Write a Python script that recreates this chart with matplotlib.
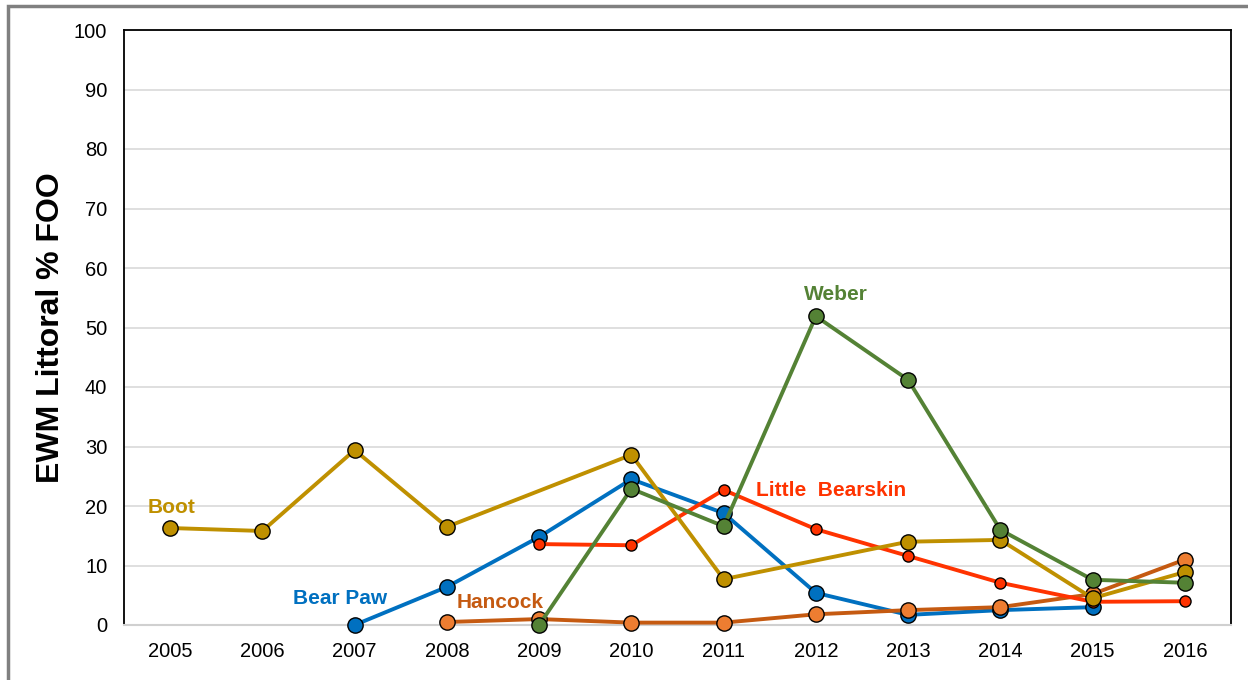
import numpy as np
import matplotlib
matplotlib.use('Agg')
import matplotlib.pyplot as plt
from matplotlib.patches import Rectangle

plt.rcParams['font.family'] = ['Liberation Sans', 'DejaVu Sans']

years = ['2005', '2006', '2007', '2008', '2009', '2010', '2011', '2012', '2013', '2014', '2015', '2016']
nan = np.nan

# valores (% FOO)
bear_paw = [nan, nan, 0.0, 6.4, 14.8, 24.5, 18.8, 5.4, 1.7, 2.5, 3.0, nan]
hancock = [nan, nan, nan, 0.5, 1.0, 0.4, 0.4, 1.8, 2.5, 3.0, 5.2, 11.0]
little_bearskin = [nan, nan, nan, nan, 13.6, 13.4, 22.7, 16.1, 11.6, 7.1, 3.9, 4.0]
boot = [16.3, 15.8, 29.4, 16.5, nan, 28.6, 7.7, nan, 14.0, 14.3, 4.5, 8.9]
weber = [nan, nan, nan, nan, 0.0, 22.9, 16.6, 51.9, 41.2, 16.0, 7.6, 7.1]

fig = plt.figure(figsize=(12.48, 6.8), dpi=100)
ax = fig.add_axes([124 / 1248, 1 - 625 / 680, (1231 - 124) / 1248, (625 - 30) / 680])

x = np.arange(len(years))


def serie(valores, color_linea, color_marca, ms=11):
    v = np.array(valores, dtype=float)
    ok = ~np.isnan(v)
    ax.plot(x[ok], v[ok], '-o', color=color_linea, lw=2.8, markersize=ms,
            markerfacecolor=color_marca, markeredgecolor='black', markeredgewidth=1.0,
            clip_on=False, zorder=3)


serie(bear_paw, '#0070C0', '#0070C0')
serie(hancock, '#C55A11', '#ED7D31')
serie(little_bearskin, '#FF3300', '#FF3300', ms=8)
serie(boot, '#BF9000', '#BF9000')
serie(weber, '#548235', '#548235')

ax.set_xlim(-0.5, len(years) - 0.5)
ax.set_ylim(0, 100)
ax.set_xticks(x)
ax.set_xticklabels(years)
ax.set_yticks(range(0, 101, 10))
ax.tick_params(length=0, labelsize=14.5)
ax.tick_params(axis='x', pad=12)
ax.tick_params(axis='y', pad=12)
ax.yaxis.grid(True, color='#D9D9D9', lw=1.2)
ax.set_axisbelow(True)
for lado in ['left', 'top', 'right']:
    ax.spines[lado].set_color('black')
    ax.spines[lado].set_linewidth(1.3)
ax.spines['bottom'].set_color('#D0D0D0')
ax.spines['bottom'].set_linewidth(1.5)

ax.set_ylabel('EWM Littoral % FOO', fontsize=23, fontweight='bold', labelpad=6)

# etiquetas de cada lago
ax.text(0.02, 19.8, 'Boot', color='#BF9000', fontsize=15, fontweight='bold', ha='center', va='center')
ax.text(1.84, 4.5, 'Bear Paw', color='#0070C0', fontsize=15, fontweight='bold', ha='center', va='center')
ax.text(3.58, 3.7, 'Hancock', color='#C55A11', fontsize=15, fontweight='bold', ha='center', va='center')
ax.text(7.17, 22.6, 'Little  Bearskin', color='#FF3300', fontsize=15, fontweight='bold', ha='center', va='center')
ax.text(7.22, 55.6, 'Weber', color='#548235', fontsize=15, fontweight='bold', ha='center', va='center')

# marco exterior
fig.patches.append(Rectangle((8 / 1248, -0.1), 1.2, 1 - 6 / 680 + 0.1, transform=fig.transFigure,
                             fill=False, edgecolor='#808080', lw=2.5))

fig.savefig('out.png', dpi=100)
